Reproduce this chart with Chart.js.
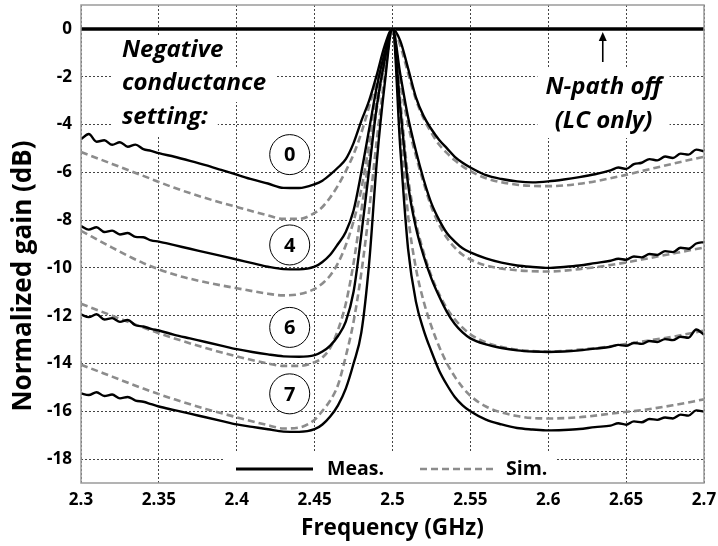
<!DOCTYPE html>
<html>
<head>
<meta charset="utf-8">
<script src="https://cdn.jsdelivr.net/npm/chart.js@4.4.0/dist/chart.umd.min.js"></script>
<style>
  html, body { margin: 0; padding: 0; background: #fff; }
</style>
</head>
<body>
<canvas id="gainChart" width="718" height="546"></canvas>
<script>
// axis ticks
const xTicks = [2.3, 2.35, 2.4, 2.45, 2.5, 2.55, 2.6, 2.65, 2.7];
const xTickLabels = ['2.3', '2.35', '2.4', '2.45', '2.5', '2.55', '2.6', '2.65', '2.7'];
const yTicks = [-18, -16, -14, -12, -10, -8, -6, -4, -2, 0];

// measured sweeps (GHz / dB)
const measFreq = [
  2.300, 2.305, 2.310, 2.315, 2.320, 2.325, 2.330, 2.335, 2.340, 2.345, 2.350,
  2.36, 2.37, 2.38, 2.39, 2.40, 2.41, 2.42, 2.43, 2.44, 2.45,
  2.455, 2.46, 2.465, 2.47, 2.475, 2.48, 2.485, 2.49, 2.495, 2.50,
  2.505, 2.51, 2.515, 2.52, 2.525, 2.53, 2.535, 2.54, 2.545,
  2.55, 2.56, 2.57, 2.58, 2.59, 2.60, 2.61, 2.62, 2.63, 2.64,
  2.645, 2.65, 2.655, 2.66, 2.665, 2.67, 2.675, 2.68, 2.685, 2.69, 2.695, 2.70
];
const meas0 = [
  -4.62, -4.40, -4.72, -4.66, -4.85, -4.74, -4.93, -4.84, -5.03, -5.10, -5.20,
  -5.35, -5.52, -5.70, -5.90, -6.10, -6.30, -6.47, -6.65, -6.66, -6.50,
  -6.35, -6.10, -5.80, -5.45, -4.78, -3.85, -3.00, -1.90, -0.70, 0,
  -0.50, -1.65, -2.85, -3.65, -4.20, -4.65, -5.00, -5.35, -5.60,
  -5.80, -6.12, -6.28, -6.38, -6.42, -6.38, -6.30, -6.20, -6.08, -5.92,
  -5.80, -5.86, -5.66, -5.60, -5.45, -5.50, -5.34, -5.40, -5.22, -5.26, -5.05, -5.12
];
const meas4 = [
  -8.25, -8.40, -8.30, -8.50, -8.44, -8.60, -8.54, -8.70, -8.72, -8.85, -8.90,
  -9.05, -9.20, -9.35, -9.50, -9.65, -9.80, -9.95, -10.05, -10.06, -9.95,
  -9.75, -9.45, -9.00, -8.50, -7.60, -6.00, -4.20, -2.40, -1.00, 0,
  -1.90, -3.70, -5.10, -6.30, -7.30, -8.00, -8.55, -8.90, -9.18,
  -9.35, -9.60, -9.78, -9.90, -9.96, -10.00, -9.96, -9.90, -9.80, -9.70,
  -9.62, -9.66, -9.52, -9.56, -9.42, -9.46, -9.30, -9.34, -9.16, -9.20, -8.98, -8.92
];
const meas6 = [
  -11.95, -12.06, -11.94, -12.16, -12.10, -12.26, -12.18, -12.40, -12.45, -12.55, -12.62,
  -12.80, -12.95, -13.10, -13.25, -13.40, -13.52, -13.62, -13.70, -13.72, -13.65,
  -13.50, -13.25, -12.85, -12.25, -11.00, -8.60, -5.90, -3.20, -1.30, 0,
  -3.30, -6.50, -8.30, -9.50, -10.45, -11.20, -11.85, -12.35, -12.70,
  -12.95, -13.20, -13.35, -13.45, -13.50, -13.52, -13.50, -13.45, -13.38, -13.30,
  -13.22, -13.26, -13.14, -13.18, -13.06, -13.10, -12.98, -13.02, -12.88, -12.92, -12.58, -12.80
];
const meas7 = [
  -15.25, -15.32, -15.20, -15.36, -15.30, -15.46, -15.40, -15.55, -15.60, -15.70, -15.80,
  -15.95, -16.10, -16.25, -16.40, -16.55, -16.65, -16.75, -16.85, -16.86, -16.75,
  -16.55, -16.22, -15.75, -15.05, -14.00, -12.70, -9.80, -5.50, -2.30, 0,
  -5.00, -9.20, -11.40, -12.60, -13.50, -14.30, -14.90, -15.40, -15.75,
  -16.00, -16.35, -16.55, -16.70, -16.76, -16.80, -16.78, -16.74, -16.66, -16.60,
  -16.50, -16.56, -16.42, -16.46, -16.32, -16.36, -16.26, -16.30, -16.14, -16.18, -15.96, -16.02
];

// simulated sweeps
const simFreq = [
  2.30, 2.32, 2.34, 2.36, 2.38, 2.40, 2.42, 2.43, 2.44, 2.45,
  2.455, 2.46, 2.465, 2.47, 2.475, 2.48, 2.485, 2.49, 2.495, 2.50,
  2.505, 2.51, 2.515, 2.52, 2.525, 2.53, 2.535, 2.54, 2.545,
  2.55, 2.56, 2.58, 2.60, 2.62, 2.64, 2.66, 2.68, 2.70
];
const sim0 = [
  -5.15, -5.65, -6.15, -6.65, -7.08, -7.45, -7.80, -7.95, -7.95, -7.70,
  -7.45, -7.05, -6.55, -5.95, -5.25, -4.35, -3.25, -2.10, -0.95, 0,
  -0.70, -1.85, -2.95, -3.75, -4.35, -4.85, -5.20, -5.50, -5.75,
  -5.95, -6.25, -6.52, -6.58, -6.48, -6.25, -5.95, -5.64, -5.35
];
const sim4 = [
  -8.45, -9.15, -9.80, -10.28, -10.60, -10.85, -11.08, -11.15, -11.10, -10.88,
  -10.65, -10.32, -9.80, -9.05, -8.05, -6.70, -4.80, -2.80, -1.20, 0,
  -2.20, -4.00, -5.30, -6.45, -7.45, -8.20, -8.75, -9.15, -9.45,
  -9.65, -9.90, -10.10, -10.15, -10.05, -9.88, -9.65, -9.40, -9.15
];
const sim6 = [
  -11.50, -12.00, -12.50, -12.95, -13.35, -13.70, -14.00, -14.10, -14.10, -13.95,
  -13.75, -13.35, -12.60, -11.50, -9.80, -7.60, -5.40, -3.30, -1.40, 0,
  -3.00, -6.20, -8.10, -9.35, -10.35, -11.10, -11.70, -12.15, -12.50,
  -12.78, -13.12, -13.42, -13.50, -13.42, -13.28, -13.08, -12.88, -12.62
];
const sim7 = [
  -14.05, -14.55, -15.05, -15.50, -15.90, -16.25, -16.58, -16.72, -16.68, -16.35,
  -15.98, -15.55, -14.90, -13.70, -12.25, -10.20, -7.60, -4.60, -2.00, 0,
  -4.00, -7.80, -10.00, -11.40, -12.45, -13.30, -14.00, -14.55, -15.00,
  -15.35, -15.80, -16.20, -16.30, -16.25, -16.10, -15.95, -15.75, -15.50
];

// N-path off (LC only) reference
const lcFreq = [2.3, 2.7];
const lcGain = [0, 0];

// circled setting labels
const settingNames = ['0', '4', '6', '7'];
const settingLabelGain = [-5.26, -9.04, -12.49, -15.27];
const settingLabelFreq = 2.434;

const noteLines = ['Negative', 'conductance', 'setting:'];
const lcNoteLines = ['N-path off', '(LC only)'];

function toXY(freq, gain) {
    return freq.map((f, i) => ({ x: f, y: gain[i] }));
}

function measSet(gain) {
    return {
        data: toXY(measFreq, gain),
        borderColor: '#000',
        borderWidth: 2.4,
        pointRadius: 0,
        showLine: true,
        cubicInterpolationMode: 'monotone'
    };
}

function simSet(gain) {
    return {
        data: toXY(simFreq, gain),
        borderColor: '#8c8c8c',
        borderWidth: 2.6,
        borderDash: [7, 4],
        pointRadius: 0,
        showLine: true,
        cubicInterpolationMode: 'monotone'
    };
}

const FONT = "'Open Sans', sans-serif";

const overlay = {
    id: 'overlay',
    beforeDatasetsDraw(chart) {
        const { ctx, chartArea: a, scales: { x, y } } = chart;
        ctx.save();
        ctx.fillStyle = '#fff';
        ctx.font = `italic bold 24px ${FONT}`;
        // white patches behind the notes
        const nx = x.getPixelForValue(2.3263);
        const nBase = [57, 90, 124];
        noteLines.forEach((t, i) => {
            const w = ctx.measureText(t).width;
            ctx.fillRect(nx - 10, nBase[i] - 22, w + 20, 34);
        });
        const lx = x.getPixelForValue(2.6355);
        let lw = 0;
        lcNoteLines.forEach(t => { lw = Math.max(lw, ctx.measureText(t).width); });
        ctx.fillRect(lx - lw / 2 - 8, 68, lw + 16, 70);
        // legend patch
        ctx.fillRect(a.left + 142, a.bottom - 31, 334, 31);
        ctx.restore();
    },
    afterDatasetsDraw(chart) {
        const { ctx, chartArea: a, scales: { x, y } } = chart;
        ctx.save();
        ctx.fillStyle = '#000';
        ctx.textBaseline = 'alphabetic';
        ctx.font = `italic bold 24px ${FONT}`;
        ctx.textAlign = 'left';
        const nx = x.getPixelForValue(2.3263);
        [57, 90, 124].forEach((b, i) => ctx.fillText(noteLines[i], nx, b));
        ctx.textAlign = 'center';
        const lx = x.getPixelForValue(2.6355);
        [94, 128].forEach((b, i) => ctx.fillText(lcNoteLines[i], lx, b));

        // arrow to the LC-only line
        const ax = x.getPixelForValue(2.635);
        const tip = y.getPixelForValue(0) + 3;
        ctx.strokeStyle = '#000';
        ctx.lineWidth = 1.6;
        ctx.beginPath();
        ctx.moveTo(ax, 62);
        ctx.lineTo(ax, tip + 4);
        ctx.stroke();
        ctx.beginPath();
        ctx.moveTo(ax, tip);
        ctx.lineTo(ax - 4, tip + 9);
        ctx.lineTo(ax + 4, tip + 9);
        ctx.closePath();
        ctx.fill();

        // circled setting numbers
        ctx.font = `bold 20px ${FONT}`;
        ctx.textBaseline = 'middle';
        ctx.lineWidth = 1;
        settingNames.forEach((s, i) => {
            const cx = x.getPixelForValue(settingLabelFreq);
            const cy = y.getPixelForValue(settingLabelGain[i]);
            ctx.beginPath();
            ctx.arc(cx, cy, 20, 0, Math.PI * 2);
            ctx.fillStyle = '#fff';
            ctx.fill();
            ctx.stroke();
            ctx.fillStyle = '#000';
            ctx.fillText(s, cx, cy + 1);
        });

        // legend
        const ly = a.bottom - 14;
        ctx.lineWidth = 3;
        ctx.beginPath();
        ctx.moveTo(a.left + 155, ly);
        ctx.lineTo(a.left + 232, ly);
        ctx.stroke();
        ctx.strokeStyle = '#8c8c8c';
        ctx.setLineDash([7, 4]);
        ctx.lineWidth = 2.6;
        ctx.beginPath();
        ctx.moveTo(a.left + 339, ly);
        ctx.lineTo(a.left + 412, ly);
        ctx.stroke();
        ctx.setLineDash([]);
        ctx.font = `bold 19.5px ${FONT}`;
        ctx.textAlign = 'left';
        ctx.fillStyle = '#000';
        ctx.fillText('Meas.', a.left + 246, ly);
        ctx.fillText('Sim.', a.left + 425, ly);
        ctx.restore();
    },
    afterDraw(chart) {
        const { ctx, chartArea: a } = chart;
        ctx.save();
        ctx.strokeStyle = '#9a9a9a';
        ctx.lineWidth = 1.5;
        ctx.strokeRect(a.left, a.top, a.right - a.left, a.bottom - a.top);
        ctx.fillStyle = '#000';
        ctx.textAlign = 'center';
        ctx.textBaseline = 'alphabetic';
        ctx.font = `bold 22.5px ${FONT}`;
        ctx.fillText('Frequency (GHz)', (a.left + a.right) / 2, 535);
        ctx.translate(31, 276);
        ctx.rotate(-Math.PI / 2);
        ctx.font = `bold 26px ${FONT}`;
        ctx.fillText('Normalized gain (dB)', 0, 0);
        ctx.restore();
    }
};

Chart.defaults.font.family = FONT;
Chart.defaults.color = '#000';

const ctx = document.getElementById('gainChart').getContext('2d');
new Chart(ctx, {
    type: 'scatter',
    data: {
        datasets: [
            measSet(meas0), measSet(meas4), measSet(meas6), measSet(meas7),
            simSet(sim0), simSet(sim4), simSet(sim6), simSet(sim7),
            {
                data: toXY(lcFreq, lcGain),
                borderColor: '#000',
                borderWidth: 3.5,
                pointRadius: 0,
                showLine: true
            }
        ]
    },
    options: {
        responsive: false,
        animation: false,
        layout: { padding: { top: 5, right: 14, left: 0, bottom: 0 } },
        plugins: {
            legend: { display: false },
            tooltip: { enabled: false }
        },
        scales: {
            x: {
                type: 'linear',
                min: 2.3,
                max: 2.7,
                afterBuildTicks: s => { s.ticks = xTicks.map(v => ({ value: v })); },
                afterFit: s => { s.height = 63; s.paddingLeft = 0; s.paddingRight = 0; },
                ticks: {
                    autoSkip: false,
                    maxRotation: 0,
                    padding: 7,
                    font: { size: 17, weight: 'bold' },
                    callback: (v, i) => xTickLabels[i]
                },
                grid: { color: '#444', lineWidth: 1, drawTicks: false },
                border: { display: false, dash: [2, 2] }
            },
            y: {
                type: 'linear',
                min: -19,
                max: 1,
                afterBuildTicks: s => { s.ticks = yTicks.map(v => ({ value: v })); },
                afterFit: s => { s.width = 81; s.paddingTop = 0; s.paddingBottom = 0; },
                ticks: {
                    padding: 9,
                    font: { size: 17, weight: 'bold' },
                    callback: v => String(v)
                },
                grid: { color: '#444', lineWidth: 1, drawTicks: false },
                border: { display: false, dash: [2, 2] }
            }
        }
    },
    plugins: [overlay]
});
</script>
</body>
</html>
